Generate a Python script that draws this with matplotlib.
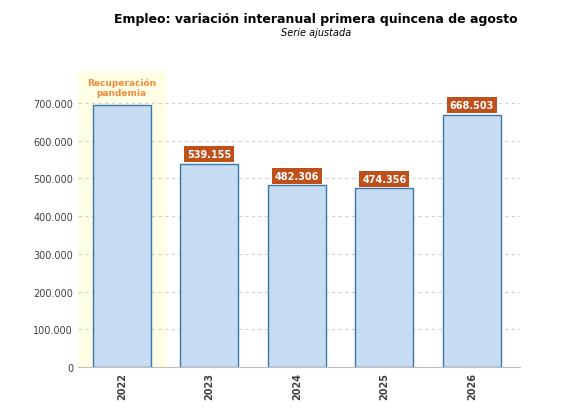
import matplotlib.pyplot as plt
from matplotlib.ticker import FuncFormatter

years = ["2022", "2023", "2024", "2025", "2026"]
values = [695000, 539155, 482306, 474356, 668503]
labels = [None, "539.155", "482.306", "474.356", "668.503"]

fig = plt.figure(figsize=(5.64, 4.14), dpi=100)
ax = fig.add_axes([78 / 564, 46 / 414, 442 / 564, 296 / 414])
x = range(len(years))

ax.axvspan(-0.5, 0.49, color="#ffffe6", zorder=0)
ax.bar(x, values, width=0.66, color="#c6dcf2", edgecolor="#3a78a8", linewidth=1, zorder=2)

for i, (v, lab) in enumerate(zip(values, labels)):
    if lab:
        ax.text(i, v + 12000, lab, ha="center", va="bottom", fontsize=7, fontweight="bold",
                color="white", bbox=dict(boxstyle="square,pad=0.3", fc="#c0501a", ec="none"), zorder=3)
ax.text(0, 742000, "Recuperación\npandemia", ha="center", va="center", fontsize=6.5,
        fontweight="bold", color="#f08a3c", zorder=3)

ax.set_xlim(-0.5, 4.55)
ax.set_ylim(0, 785000)
ax.set_yticks(range(0, 700001, 100000))
ax.yaxis.set_major_formatter(FuncFormatter(lambda v, p: f"{int(v):,}".replace(",", ".")))
ax.set_xticks(list(x))
ax.set_xticklabels(years, rotation=90, fontweight="bold")
ax.tick_params(labelsize=7, colors="#404040", length=0)
ax.grid(axis="y", linestyle=(0, (3, 3)), color="#d0d0d0", linewidth=0.8, zorder=1)
for s in ["top", "right", "left"]:
    ax.spines[s].set_visible(False)
ax.spines["bottom"].set_color("#bfbfbf")

fig.text(0.56, 0.945, "Empleo: variación interanual primera quincena de agosto", ha="center",
         fontsize=9, fontweight="bold")
fig.text(0.56, 0.912, "Serie ajustada", ha="center", fontsize=7, style="italic")

fig.savefig("out.png", dpi=100)
